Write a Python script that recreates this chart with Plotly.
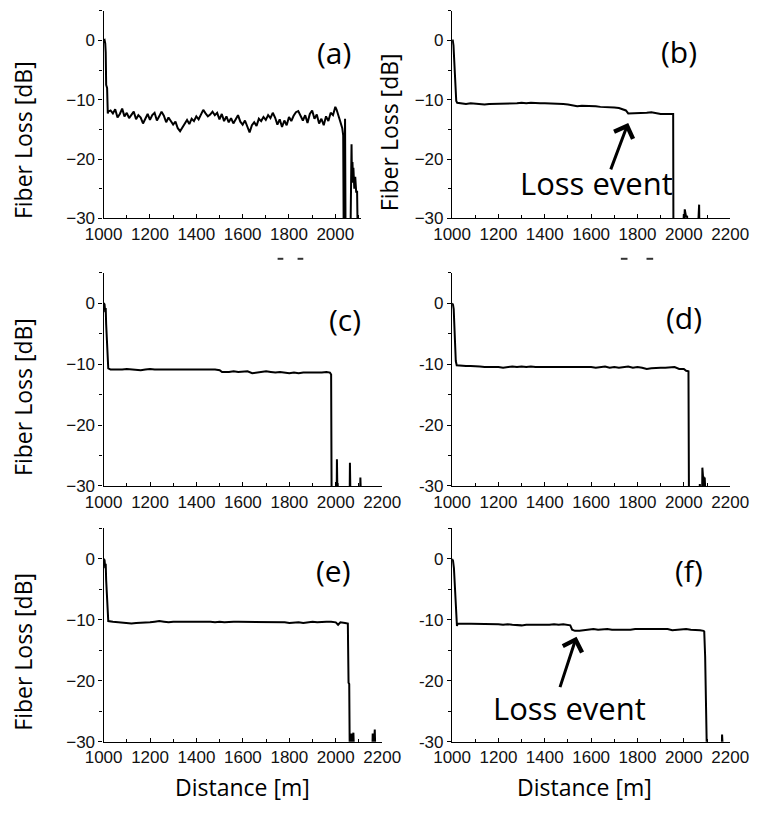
import plotly.graph_objects as go

# ---------------- data ----------------
a_dist = [1000, 1004, 1007, 1009, 1011, 1015, 1018, 1020, 1030, 1040, 1050, 1060, 1070, 1080, 1090,
          1100, 1110, 1120, 1130, 1140, 1150, 1160, 1170, 1180, 1190, 1200, 1210, 1220, 1230, 1240,
          1250, 1260, 1270, 1280, 1290, 1300, 1310, 1320, 1330, 1340, 1350, 1360, 1370, 1380, 1390,
          1400, 1410, 1420, 1430, 1440, 1450, 1460, 1470, 1480, 1490, 1500, 1510, 1520, 1530, 1540,
          1550, 1560, 1570, 1580, 1590, 1600, 1610, 1620, 1630, 1640, 1650, 1660, 1670, 1680, 1690,
          1700, 1710, 1720, 1730, 1740, 1750, 1760, 1770, 1780, 1790, 1800, 1810, 1820, 1830, 1840,
          1850, 1860, 1870, 1880, 1890, 1900, 1910, 1920, 1930, 1940, 1950, 1960, 1970, 1980, 1990,
          2000, 2005, 2010, 2020, 2030, 2034, 2036, 2040, 2042, 2044, 2066, 2068, 2070, 2072, 2074,
          2076, 2078, 2082, 2086, 2090, 2094, 2096]
a_loss = [0.0, 0.1, -0.5, -2.0, -7.5, -8.0, -12.3, -12.0, -11.8, -12.3, -11.6, -13.0, -12.4, -11.5, -12.8,
          -12.2, -13.1, -12.5, -12.0, -13.3, -12.6, -13.0, -14.0, -13.2, -12.4, -13.4, -12.6, -12.2, -13.5, -12.8,
          -12.0, -12.7, -13.8, -13.0, -13.6, -14.2, -13.7, -14.8, -15.3, -14.6, -14.0, -13.4, -14.1, -13.2, -13.6,
          -12.8, -13.3, -12.4, -11.7, -12.3, -12.8, -12.5, -12.0, -12.6, -12.2, -13.3, -12.4, -13.6, -12.8, -13.8,
          -13.1, -14.0, -13.4, -12.6, -13.7, -14.2, -13.5, -14.6, -15.5, -14.3, -13.8, -14.4, -13.2, -13.6, -12.9,
          -13.4, -12.6, -13.1, -12.2, -13.0, -14.2, -13.3, -14.6, -13.5, -14.3, -12.9, -13.6, -12.7, -12.1, -11.9,
          -12.8, -13.5, -12.6, -13.9, -12.4, -11.8, -13.2, -12.5, -14.0, -13.2, -14.3, -12.8, -13.6, -12.2, -12.6,
          -11.2, -11.6, -12.4, -13.5, -14.8, -16.0, -31.0, -31.0, -13.2, -31.0, -31.0, -22.0, -17.5, -24.0, -20.5,
          -23.0, -21.5, -25.0, -23.0, -25.5, -25.5, -31.0]

b_dist = [1000, 1003, 1006, 1009, 1012, 1015, 1018, 1022, 1040, 1060, 1080, 1100, 1120, 1140, 1160,
          1180, 1200, 1220, 1240, 1260, 1280, 1300, 1320, 1340, 1360, 1380, 1400, 1420, 1440, 1460,
          1480, 1500, 1520, 1540, 1560, 1580, 1600, 1620, 1640, 1660, 1680, 1700, 1720, 1740, 1750,
          1760, 1780, 1800, 1820, 1840, 1860, 1880, 1900, 1920, 1940, 1954, 1955, 1998, 2000, 2002,
          2004, 2006, 2008, 2010, 2014, 2016, 2062, 2063, 2066, 2067]
b_loss = [0.0, 0.0, -0.8, -3.0, -6.0, -8.5, -10.2, -10.5, -10.6, -10.7, -10.6, -10.7, -10.8, -10.8, -10.7,
          -10.7, -10.7, -10.6, -10.7, -10.7, -10.6, -10.5, -10.6, -10.5, -10.6, -10.6, -10.6, -10.6, -10.6, -10.7,
          -10.7, -10.8, -11.0, -11.1, -11.0, -11.0, -11.0, -11.1, -11.2, -11.2, -11.3, -11.3, -11.4, -11.6, -11.8,
          -12.3, -12.3, -12.2, -12.3, -12.2, -12.1, -12.3, -12.4, -12.4, -12.4, -12.4, -31.0, -31.0, -29.3, -31.0,
          -28.5, -29.0, -28.8, -29.8, -29.6, -31.0, -31.0, -27.7, -27.7, -31.0]

c_dist = [1000, 1004, 1007, 1009, 1011, 1014, 1017, 1020, 1030, 1040, 1060, 1080, 1100, 1120, 1140,
          1160, 1180, 1200, 1220, 1240, 1260, 1280, 1300, 1320, 1340, 1360, 1380, 1400, 1420, 1440,
          1460, 1480, 1500, 1510, 1540, 1560, 1580, 1600, 1620, 1640, 1660, 1680, 1700, 1720, 1740,
          1760, 1780, 1800, 1820, 1840, 1860, 1880, 1900, 1920, 1940, 1960, 1975, 1980, 1982, 2004,
          2005, 2007, 2008, 2010, 2060, 2061, 2063, 2105, 2106, 2108]
c_loss = [0.0, -0.2, -1.5, -0.8, -3.5, -7.0, -9.5, -10.7, -10.9, -10.9, -11.0, -10.9, -10.8, -10.9, -11.0,
          -11.0, -10.9, -10.8, -10.9, -10.9, -10.8, -10.9, -10.8, -10.8, -10.8, -10.9, -10.9, -10.9, -10.9, -10.8,
          -10.9, -10.9, -11.0, -11.3, -11.3, -11.2, -11.3, -11.3, -11.2, -11.5, -11.4, -11.3, -11.2, -11.3, -11.4,
          -11.3, -11.4, -11.5, -11.4, -11.5, -11.4, -11.4, -11.5, -11.4, -11.4, -11.3, -11.4, -11.7, -31.0, -31.0,
          -25.6, -31.0, -29.5, -31.0, -31.0, -26.2, -31.0, -31.0, -28.6, -31.0]

d_dist = [1000, 1004, 1007, 1010, 1013, 1016, 1020, 1040, 1060, 1080, 1100, 1120, 1140, 1160, 1180,
          1200, 1220, 1240, 1260, 1280, 1300, 1320, 1340, 1360, 1380, 1400, 1420, 1440, 1460, 1480,
          1500, 1520, 1540, 1560, 1580, 1600, 1620, 1640, 1660, 1680, 1700, 1720, 1740, 1760, 1780,
          1800, 1820, 1840, 1860, 1880, 1900, 1920, 1940, 1960, 1980, 2000, 2010, 2020, 2022, 2068,
          2069, 2071, 2079, 2080, 2083, 2086, 2088, 2090, 2093]
d_loss = [0.0, -0.3, -1.0, -3.5, -7.5, -9.5, -10.2, -10.3, -10.3, -10.3, -10.3, -10.4, -10.5, -10.5, -10.4,
          -10.5, -10.6, -10.5, -10.4, -10.5, -10.4, -10.5, -10.4, -10.5, -10.5, -10.5, -10.5, -10.5, -10.5, -10.5,
          -10.4, -10.5, -10.5, -10.4, -10.5, -10.5, -10.6, -10.5, -10.4, -10.6, -10.5, -10.6, -10.5, -10.4, -10.6,
          -10.5, -10.6, -10.8, -10.7, -10.6, -10.6, -10.6, -10.6, -10.5, -10.8, -10.8, -11.1, -11.2, -31.0, -31.0,
          -29.7, -31.0, -31.0, -27.0, -28.6, -28.5, -31.0, -28.6, -31.0]

e_dist = [1000, 1004, 1007, 1009, 1011, 1014, 1017, 1020, 1040, 1060, 1080, 1100, 1120, 1140, 1160,
          1180, 1200, 1220, 1240, 1260, 1280, 1300, 1320, 1340, 1360, 1380, 1400, 1420, 1440, 1460,
          1480, 1500, 1520, 1540, 1560, 1580, 1600, 1620, 1640, 1660, 1680, 1700, 1720, 1740, 1760,
          1780, 1800, 1820, 1840, 1860, 1880, 1900, 1920, 1940, 1960, 1980, 2000, 2010, 2020, 2040,
          2052, 2055, 2058, 2060, 2064, 2065, 2070, 2072, 2074, 2076, 2078, 2158, 2159, 2162, 2164,
          2166, 2168, 2170]
e_loss = [0.0, -0.2, -1.5, -0.8, -3.5, -7.0, -9.5, -10.2, -10.3, -10.4, -10.4, -10.5, -10.6, -10.5, -10.5,
          -10.4, -10.4, -10.3, -10.2, -10.3, -10.4, -10.3, -10.3, -10.3, -10.3, -10.3, -10.2, -10.3, -10.3, -10.3,
          -10.4, -10.3, -10.4, -10.3, -10.3, -10.3, -10.3, -10.3, -10.3, -10.4, -10.3, -10.4, -10.3, -10.3, -10.4,
          -10.4, -10.5, -10.4, -10.4, -10.5, -10.4, -10.3, -10.4, -10.3, -10.3, -10.3, -10.4, -10.8, -10.4, -10.5,
          -10.6, -20.3, -20.5, -31.0, -31.0, -28.8, -28.8, -31.0, -28.5, -28.5, -31.0, -31.0, -28.8, -28.8, -31.0,
          -28.2, -28.0, -31.0]

f_dist = [1000, 1004, 1008, 1011, 1014, 1017, 1019, 1021, 1024, 1040, 1060, 1080, 1100, 1120, 1140,
          1160, 1180, 1200, 1220, 1240, 1260, 1280, 1300, 1320, 1340, 1360, 1380, 1400, 1420, 1440,
          1460, 1480, 1500, 1510, 1518, 1530, 1550, 1570, 1590, 1610, 1630, 1650, 1670, 1690, 1710,
          1730, 1750, 1770, 1790, 1810, 1830, 1850, 1870, 1890, 1910, 1930, 1950, 1970, 1990, 2010,
          2030, 2050, 2070, 2085, 2088, 2092, 2096, 2099, 2164, 2165, 2167, 2168]
f_loss = [0.0, -0.3, -1.5, -4.0, -7.5, -8.0, -10.5, -11.0, -10.6, -10.6, -10.6, -10.7, -10.6, -10.6, -10.7,
          -10.7, -10.7, -10.7, -10.8, -10.7, -10.8, -10.9, -10.9, -10.8, -10.8, -10.9, -10.8, -10.9, -10.8, -10.7,
          -10.8, -10.7, -10.8, -10.9, -11.6, -11.8, -11.8, -11.7, -11.6, -11.5, -11.6, -11.5, -11.5, -11.6, -11.6,
          -11.7, -11.6, -11.6, -11.5, -11.5, -11.6, -11.5, -11.6, -11.5, -11.6, -11.5, -11.7, -11.6, -11.5, -11.5,
          -11.6, -11.6, -11.7, -11.8, -11.9, -16.0, -24.0, -31.0, -31.0, -28.8, -28.9, -31.0]

panel_labels = ["(a)", "(b)", "(c)", "(d)", "(e)", "(f)"]
x_ticks = [1000, 1200, 1400, 1600, 1800, 2000, 2200]
y_ticks = [0, -10, -20, -30]
y_text_minus = ["0", "\u221210", "\u221220", "\u221230"]
y_text_hyphen = ["0", "-10", "-20", "-30"]
y_title = "Fiber Loss [dB]"
x_title = "Distance [m]"
event_text = "Loss event"

# ---------------- layout geometry ----------------
W, H = 772, 817
def px(x):
    return x / W
def py(y):
    return 1 - y / H

col_dom = {"a": (89, 359.5), "L": (89, 382), "R": (455.5, 748)}
row_dom = [(11, 221), (276, 492), (535, 751)]

panels = [
    dict(d=a_dist, l=a_loss, col="a", row=0, xr=[1000, 2110], yt=y_text_minus),
    dict(d=b_dist, l=b_loss, col="R", row=0, xr=[1000, 2200], yt=y_text_minus),
    dict(d=c_dist, l=c_loss, col="L", row=1, xr=[1000, 2200], yt=y_text_minus),
    dict(d=d_dist, l=d_loss, col="R", row=1, xr=[1000, 2200], yt=y_text_hyphen),
    dict(d=e_dist, l=e_loss, col="L", row=2, xr=[1000, 2200], yt=y_text_minus),
    dict(d=f_dist, l=f_loss, col="R", row=2, xr=[1000, 2200], yt=y_text_hyphen),
]

tick_font = dict(family="Liberation Sans, Arial, sans-serif", size=17, color="#111")
text_font = "Open Sans, sans-serif"

fig = go.Figure()
layout = {}
for i, p in enumerate(panels, start=1):
    xa = "x" if i == 1 else f"x{i}"
    ya = "y" if i == 1 else f"y{i}"
    fig.add_trace(go.Scatter(x=p["d"], y=p["l"], mode="lines",
                             line=dict(color="black", width=2),
                             xaxis=xa, yaxis=ya, showlegend=False, hoverinfo="skip"))
    c0, c1 = col_dom[p["col"]]
    r0, r1 = row_dom[p["row"]]
    layout["xaxis" if i == 1 else f"xaxis{i}"] = dict(
        domain=[px(c0), px(c1)], range=p["xr"], anchor=ya,
        tickmode="array", tickvals=[t for t in x_ticks if t <= p["xr"][1]],
        ticks="inside", ticklen=4, tickwidth=1, tickcolor="black",
        minor=dict(tickmode="linear", tick0=1000, dtick=100, ticks="inside", ticklen=3, tickcolor="black"),
        showline=True, linecolor="black", linewidth=1.3, showgrid=False, zeroline=False,
        tickfont=tick_font, fixedrange=True)
    layout["yaxis" if i == 1 else f"yaxis{i}"] = dict(
        domain=[py(r1), py(r0)], range=[-30, 5], anchor=xa,
        tickmode="array", tickvals=y_ticks, ticktext=p["yt"],
        ticks="outside", ticklen=4, tickwidth=1, tickcolor="black",
        minor=dict(tickmode="linear", tick0=0, dtick=5, ticks="outside", ticklen=3, tickcolor="black"),
        showline=True, linecolor="black", linewidth=1.3, showgrid=False, zeroline=False,
        tickfont=tick_font, fixedrange=True)

annotations = []
# panel labels
label_pos = [(331, 53), (694, 52), (343, 323), (699, 321), (331, 578), (705, 578)]
for lab, (lx, ly) in zip(panel_labels, label_pos):
    annotations.append(dict(text=lab, x=px(lx), y=py(ly), xref="paper", yref="paper",
                            showarrow=False, xanchor="center", yanchor="middle",
                            font=dict(family=text_font, size=30, color="black")))
# y titles
for (tx, ty) in [(4, 142), (390, 134), (4, 402), (4, 660)]:
    annotations.append(dict(text=y_title, x=px(tx), y=py(ty), xref="paper", yref="paper",
                            showarrow=False, textangle=-90, xanchor="center", yanchor="middle",
                            font=dict(family=text_font, size=23, color="black")))
# x titles
for (tx, ty) in [(235, 797), (595, 797)]:
    annotations.append(dict(text=x_title, x=px(tx), y=py(ty), xref="paper", yref="paper",
                            showarrow=False, xanchor="center", yanchor="middle",
                            font=dict(family=text_font, size=23, color="black")))
# loss event arrows
annotations.append(dict(x=1760, y=-13.9, xref="x2", yref="y2", ax=-18, ay=48, text="",
                        showarrow=True, arrowhead=4, arrowsize=1.3, arrowwidth=3, arrowcolor="black"))
annotations.append(dict(x=1537, y=-12.75, xref="x6", yref="y6", ax=-17, ay=52, text="",
                        showarrow=True, arrowhead=4, arrowsize=1.3, arrowwidth=3, arrowcolor="black"))
for (tx, ty) in [(607, 185), (579, 717)]:
    annotations.append(dict(text=event_text, x=px(tx), y=py(ty), xref="paper", yref="paper",
                            showarrow=False, xanchor="center", yanchor="middle",
                            font=dict(family=text_font, size=31, color="black")))

# small remnants below the top row (cropped text fragments)
shapes = []
for (sx0, sx1) in [(272, 278), (293, 299), (633, 640), (660, 667)]:
    shapes.append(dict(type="line", xref="paper", yref="paper",
                       x0=px(sx0), x1=px(sx1), y0=py(262), y1=py(262),
                       line=dict(color="#333", width=2)))

fig.update_layout(width=W, height=H, margin=dict(l=0, r=0, t=0, b=0),
                  paper_bgcolor="white", plot_bgcolor="white",
                  annotations=annotations, shapes=shapes, **layout)
fig.write_html("out.html")
